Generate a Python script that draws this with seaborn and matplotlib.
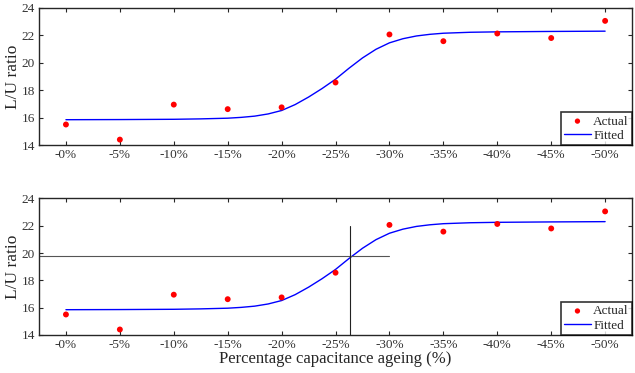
import numpy as np
import pandas as pd
import matplotlib
matplotlib.use("Agg")
import matplotlib.pyplot as plt
import seaborn as sns

# dados
ageing_labels = ["-0%", "-5%", "-10%", "-15%", "-20%", "-25%", "-30%", "-35%", "-40%", "-45%", "-50%"]
actual_lu = [15.5, 14.4, 16.95, 16.62, 16.75, 18.56, 22.06, 21.57, 22.13, 21.8, 23.05]

fit_pos = [0, 1, 2, 2.5, 3, 3.25, 3.5, 3.75, 4, 4.25, 4.5, 4.75, 5, 5.25, 5.5, 5.75,
           6, 6.25, 6.5, 6.75, 7, 7.5, 8, 9, 10]
fit_lu = [15.85, 15.86, 15.88, 15.91, 15.96, 16.02, 16.11, 16.27, 16.52, 16.95, 17.5, 18.12,
          18.8, 19.6, 20.35, 20.98, 21.45, 21.75, 21.95, 22.07, 22.15, 22.22, 22.25, 22.28, 22.3]

target_ratio = 19.8
cross_pos = 5.27
vline_top = 22.0
hline_end = 6

sns.set_style("ticks")
plt.rcParams["font.family"] = ["Liberation Serif", "DejaVu Serif"]

df_act = pd.DataFrame({"pos": range(len(ageing_labels)), "lu": actual_lu})
df_fit = pd.DataFrame({"pos": fit_pos, "lu": fit_lu})

fig = plt.figure(figsize=(6.35, 3.73), dpi=100)
ax1 = fig.add_axes([0.0614, 0.611, 0.934, 0.368])
ax2 = fig.add_axes([0.0614, 0.102, 0.934, 0.366])

for ax in [ax1, ax2]:
    sns.scatterplot(data=df_act, x="pos", y="lu", ax=ax, color="red", s=18,
                    edgecolor="none", label="Actual", zorder=3)
    sns.lineplot(data=df_fit, x="pos", y="lu", ax=ax, color="blue", lw=1,
                 label="Fitted")
    ax.set_xlim(-0.5, 10.5)
    ax.set_ylim(14, 24)
    ax.set_yticks([14, 16, 18, 20, 22, 24])
    ax.set_xticks(range(len(ageing_labels)))
    ax.set_xticklabels(ageing_labels)
    ax.tick_params(direction="in", top=True, right=True, labelsize=9.5,
                   labelcolor="#333333", length=3, pad=3)
    for sp in ax.spines.values():
        sp.set_visible(True)
        sp.set_linewidth(1)
    ax.set_ylabel("L/U ratio", fontsize=12.5)
    ax.set_xlabel("")
    ax.yaxis.set_label_coords(-0.030, 0.5)
    leg = ax.legend(loc="lower right", fontsize=9.5, frameon=True, fancybox=False,
                    borderpad=0.25, handlelength=2.0, handletextpad=0.2,
                    labelspacing=0.15, borderaxespad=0.0, markerscale=0.9)
    leg.get_frame().set_edgecolor("black")
    leg.get_frame().set_linewidth(1.2)

ax2.plot([-0.5, hline_end], [target_ratio, target_ratio], color="#555555", lw=0.8)
ax2.plot([cross_pos, cross_pos], [14, vline_top], color="#222222", lw=0.8)
ax2.set_xlabel("Percentage capacitance ageing (%)", fontsize=12, labelpad=0)

plt.savefig("out.png", dpi=100)
